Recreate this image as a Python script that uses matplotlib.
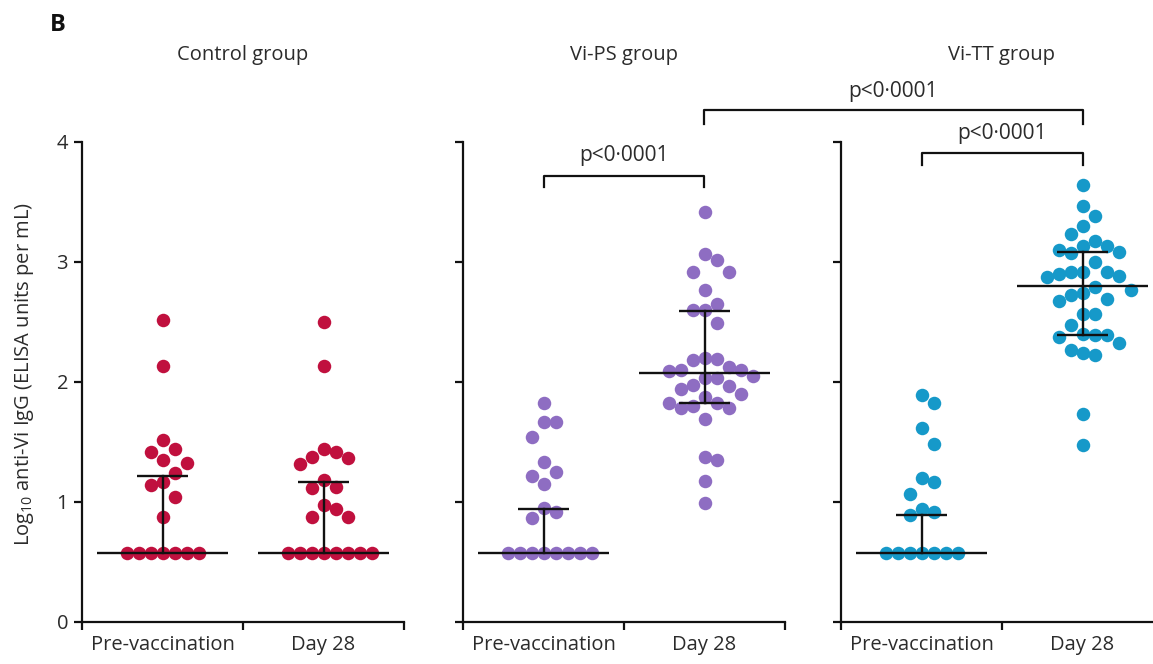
import numpy as np
import matplotlib
matplotlib.use('Agg')
from matplotlib import pyplot as plt
from matplotlib.lines import Line2D

plt.rcParams['font.family'] = ['Open Sans', 'DejaVu Sans']
plt.rcParams['mathtext.fontset'] = 'custom'
plt.rcParams['mathtext.rm'] = 'Open Sans'
plt.rcParams['mathtext.it'] = 'Open Sans'

# log10 anti-Vi IgG values, 0.57 = lower limit of quantification
ctrl_pre = [2.51, 2.13, 1.51, 1.44, 1.415, 1.35, 1.32, 1.24, 1.16, 1.14, 1.04, 0.87] + [0.57] * 7
ctrl_d28 = [2.50, 2.13, 1.44, 1.415, 1.37, 1.36, 1.31, 1.18, 1.12, 1.11, 0.97, 0.94,
            0.87, 0.87] + [0.57] * 8
ps_pre = [1.82, 1.66, 1.66, 1.54, 1.33, 1.25, 1.21, 1.15, 0.95, 0.91, 0.86] + [0.57] * 8
ps_d28 = [3.415, 3.06, 3.01, 2.915, 2.915, 2.76, 2.65, 2.60, 2.60, 2.485, 2.20, 2.19,
          2.18, 2.12, 2.10, 2.10, 2.09, 2.05, 2.03, 2.03, 1.97, 1.96, 1.94, 1.90, 1.87,
          1.82, 1.82, 1.80, 1.78, 1.78, 1.69, 1.37, 1.35, 1.17, 0.99]
tt_pre = [1.89, 1.82, 1.61, 1.48, 1.20, 1.16, 1.06, 0.94, 0.915, 0.89] + [0.57] * 7
tt_d28 = [3.64, 3.46, 3.38, 3.30, 3.23, 3.17, 3.13, 3.13, 3.10, 3.08, 3.07, 3.00, 2.915,
          2.91, 2.91, 2.90, 2.88, 2.87, 2.79, 2.76, 2.74, 2.72, 2.69, 2.67, 2.56, 2.56,
          2.47, 2.40, 2.39, 2.39, 2.37, 2.32, 2.26, 2.235, 2.22, 1.73, 1.47]

# median and interquartile range per timepoint [pre, day 28]
ctrl_med = [0.57, 0.57]
ctrl_lo = [0.57, 0.57]
ctrl_hi = [1.21, 1.16]
ps_med = [0.57, 2.07]
ps_lo = [0.57, 1.82]
ps_hi = [0.94, 2.59]
tt_med = [0.57, 2.80]
tt_lo = [0.57, 2.39]
tt_hi = [0.89, 3.08]

titles = ['Control group', 'Vi-PS group', 'Vi-TT group']
timepoints = ['Pre-vaccination', 'Day 28']
colors = ['#C0103E', '#8E6DC2', '#1699C9']
pval = 'p<0\u00b70001'

groups = [
    (ctrl_pre, ctrl_d28, ctrl_med, ctrl_lo, ctrl_hi),
    (ps_pre, ps_d28, ps_med, ps_lo, ps_hi),
    (tt_pre, tt_d28, tt_med, tt_lo, tt_hi),
]

TXT = '#2b2b2b'
FS = 14.5
DOT = 13.5  # dot diameter, px


def swarm(values, px_y, step, dy_min):
    # greedy beeswarm: nearest free slot, slots every half step
    placed = []
    offs = []
    order = [0]
    for k in range(1, 20):
        order += [k, -k]
    for v in values:
        y = v * px_y
        for c in order:
            x = c * step / 2
            if all(abs(x - px) >= step or abs(y - py) >= dy_min for px, py in placed):
                break
        placed.append((x, y))
        offs.append(x)
    return np.array(offs)


fig = plt.figure(figsize=(11.53, 6.64), dpi=100)
W, H = 1153, 664
lefts = [82, 463, 841]
axes = []
for i, (pre, d28, med, lo, hi) in enumerate(groups):
    ax = fig.add_axes([lefts[i] / W, (H - 621.5) / H, 322 / W, 480 / H])
    ax.set_xlim(-0.5, 1.5)
    ax.set_ylim(0, 4)
    px_x = ax.bbox.width / 2
    px_y = ax.bbox.height / 4
    for j, vals in enumerate([pre, d28]):
        offs = swarm(vals, px_y, 12.0, 19.0) / px_x
        ax.plot(j + offs, vals, 'o', ms=DOT * 0.72, color=colors[i], mec='none',
                clip_on=False, zorder=2)
        # median line, IQR whisker and caps
        ax.plot([j - 0.405, j + 0.405], [med[j], med[j]], color='#111111', lw=1.7,
                zorder=3, solid_capstyle='butt')
        ax.plot([j, j], [lo[j], hi[j]], color='#111111', lw=1.7, zorder=3)
        for e in (lo[j], hi[j]):
            if e != med[j]:
                ax.plot([j - 0.16, j + 0.16], [e, e], color='#111111', lw=1.7,
                        zorder=3, solid_capstyle='butt')

    for s in ['top', 'right']:
        ax.spines[s].set_visible(False)
    for s in ['left', 'bottom']:
        ax.spines[s].set_linewidth(1.6)
        ax.spines[s].set_color('#111111')
    ax.set_yticks([0, 1, 2, 3, 4])
    ax.set_xticks([-0.5, 0.5, 1.5])
    ax.set_xticklabels([])
    ax.set_xticks([0, 1], minor=True)
    ax.set_xticklabels(timepoints, minor=True, fontsize=FS, color=TXT)
    ax.tick_params(axis='both', which='major', direction='out', length=6, width=1.6,
                   color='#111111', labelsize=FS, labelcolor=TXT, pad=4)
    ax.tick_params(axis='x', which='minor', length=0, pad=10)
    if i > 0:
        ax.set_yticklabels([])
    ax.text(0.5, 1.18, titles[i], transform=ax.transAxes, ha='center', va='center',
            fontsize=FS, color=TXT)
    axes.append(ax)

to_fig = fig.transFigure.inverted()


def bracket(ax_a, xa, ax_b, xb, y, drop, label, ty):
    p1 = to_fig.transform(ax_a.transData.transform((xa, y - drop)))
    p2 = to_fig.transform(ax_a.transData.transform((xa, y)))
    p3 = to_fig.transform(ax_b.transData.transform((xb, y)))
    p4 = to_fig.transform(ax_b.transData.transform((xb, y - drop)))
    pts = np.array([p1, p2, p3, p4])
    fig.add_artist(Line2D(pts[:, 0], pts[:, 1], color='#111111', lw=1.6,
                          transform=fig.transFigure))
    t = to_fig.transform(ax_a.transData.transform((xa, ty)))
    fig.text((p2[0] + p3[0]) / 2, t[1], label, ha='center', va='center',
             fontsize=FS + 0.5, color=TXT)


bracket(axes[1], 0, axes[1], 1, 3.715, 0.095, pval, 3.88)
bracket(axes[2], 0, axes[2], 1, 3.905, 0.10, pval, 4.07)
bracket(axes[1], 1, axes[2], 1, 4.26, 0.11, pval, 4.42)

fig.text(25 / W, (H - 374) / H, 'Log$_{10}$ anti-Vi IgG (ELISA units per mL)',
         rotation=90, ha='center', va='center', fontsize=FS, color=TXT)
fig.text(58 / W, (H - 25) / H, 'B', ha='center', va='center', fontsize=17,
         fontweight='bold', color='#111111')

fig.savefig('out.png', dpi=100)
